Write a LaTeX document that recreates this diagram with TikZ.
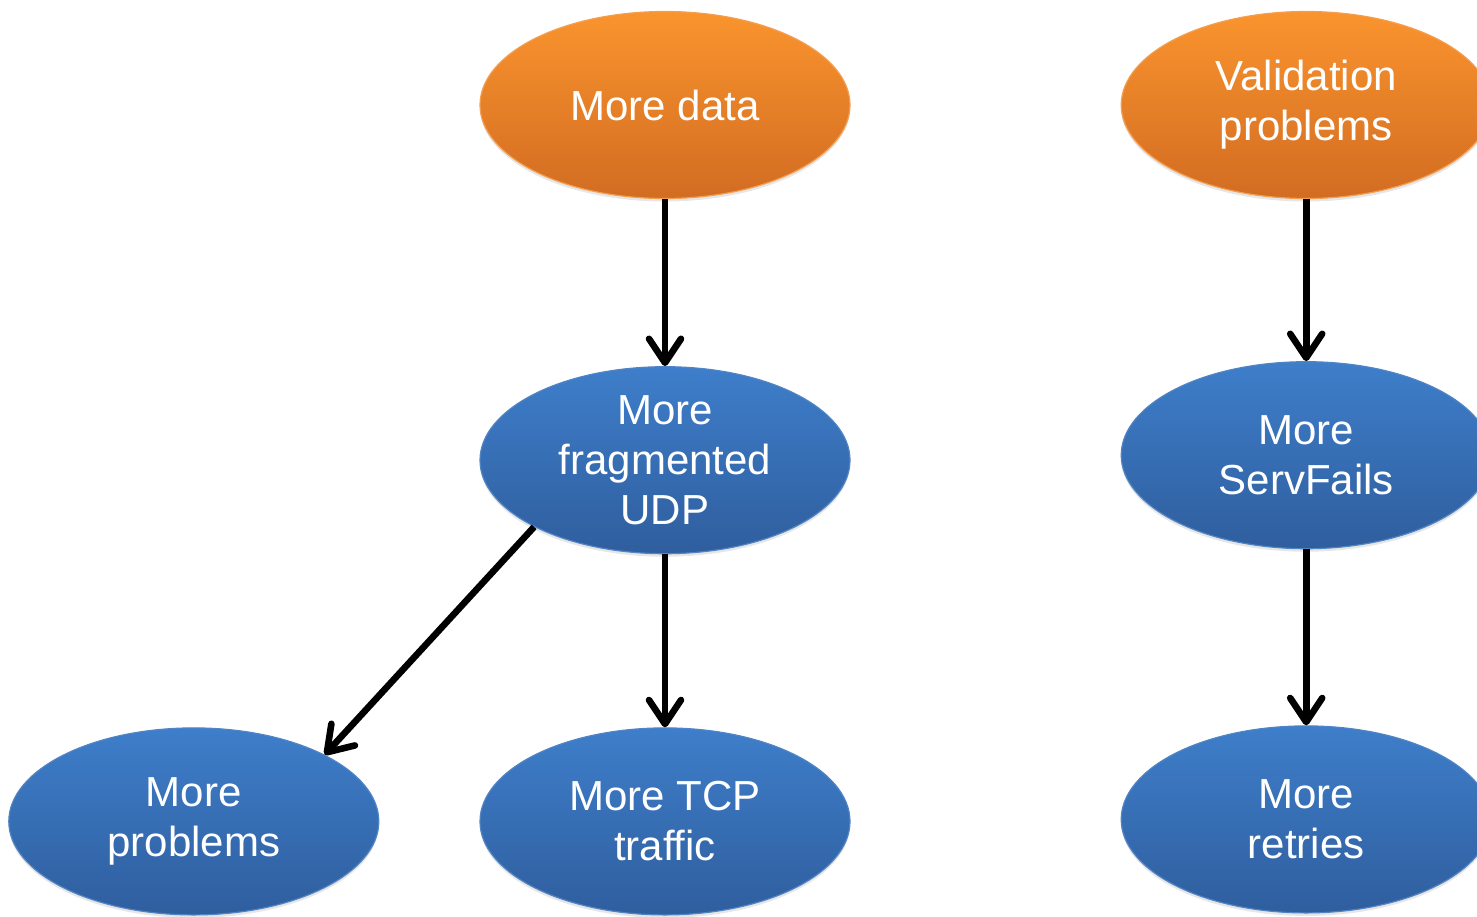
\documentclass[tikz,border=0pt]{standalone}
\usepackage{fontspec}
\setmainfont{Liberation Sans}
\usetikzlibrary{shapes.geometric}
\usetikzlibrary{positioning}
\usetikzlibrary{arrows.meta}
\usetikzlibrary{shadows}

\definecolor{causetop}{RGB}{250,148,46}
\definecolor{causebot}{RGB}{210,108,34}
\definecolor{causeline}{RGB}{244,158,80}
\definecolor{effecttop}{RGB}{62,126,202}
\definecolor{effectbot}{RGB}{47,94,158}
\definecolor{effectline}{RGB}{80,132,196}

\tikzset{
	cause/.style={ellipse, minimum width=185pt, minimum height=93.5pt, inner sep=0pt,
		top color=causetop, bottom color=causebot, draw=causeline, line width=0.6pt,
		text=white, align=center, font=\fontsize{21}{25}\selectfont,
		drop shadow={shadow xshift=0pt, shadow yshift=-1.5pt, opacity=0.2}},
	effect/.style={cause, top color=effecttop, bottom color=effectbot, draw=effectline},
	flow/.style={-{Straight Barb[round,length=12pt,width=16pt]}, line width=3.3pt, black}
}

\begin{document}
\begin{tikzpicture}
	\useasboundingbox (0pt,0pt) rectangle (738.5pt,-458pt);
	\node[cause] (data) at (332.5pt,-52.5pt) {More data};
	\node[effect, below=83.5pt of data] (udp) {More\\fragmented\\UDP};
	\node[effect, below=86.5pt of udp] (tcp) {More TCP\\traffic};
	\node[effect, left=50pt of tcp] (problems) {More\\problems};
	\node[cause, right=135pt of data] (valid) {Validation\\problems};
	\node[effect, below=81pt of valid] (servfails) {More\\ServFails};
	\node[effect, below=88pt of servfails] (retries) {More\\retries};
	\draw[flow] (data) -- (udp);
	\draw[flow] (udp) -- (tcp);
	\draw[flow] (udp.207) -- (problems.27);
	\draw[flow] (valid) -- (servfails);
	\draw[flow] (servfails) -- (retries);
\end{tikzpicture}
\end{document}
